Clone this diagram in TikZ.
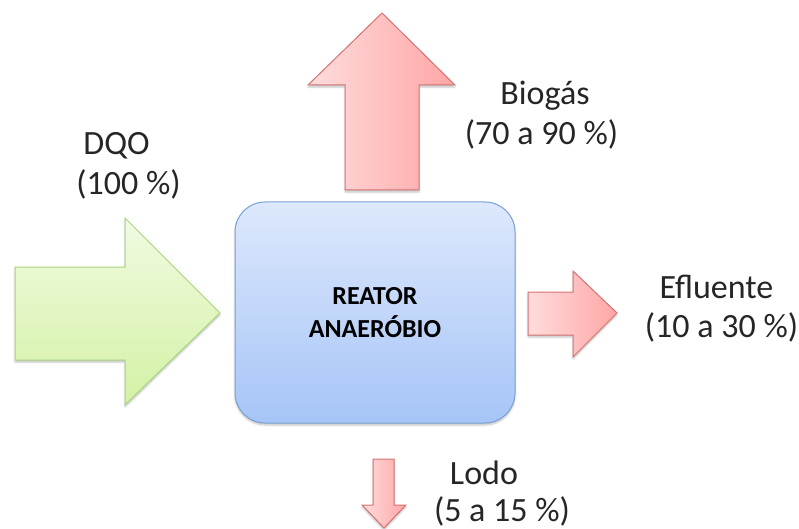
\documentclass[tikz,border=0pt]{standalone}
\usepackage{fontspec}
\setmainfont{Carlito}
\usetikzlibrary{shadows.blur}
\definecolor{boxtop}{HTML}{DDE8FC}
\definecolor{boxbot}{HTML}{A6C5F7}
\definecolor{boxline}{HTML}{7A9FD6}
\definecolor{greentop}{HTML}{F1FBE2}
\definecolor{greenbot}{HTML}{D3F1A4}
\definecolor{greenline}{HTML}{A9D37E}
\definecolor{redlight}{HTML}{FFDCDC}
\definecolor{reddark}{HTML}{FFA6A6}
\definecolor{redline}{HTML}{D67272}
\tikzset{
  inflow/.style={top color=greentop, bottom color=greenbot, draw=greenline, line width=1pt,
    line join=miter, blur shadow={shadow xshift=0pt, shadow yshift=-2pt, shadow blur steps=5, shadow opacity=25}},
  outflow/.style={left color=redlight, right color=reddark, draw=redline, line width=1pt,
    line join=miter, blur shadow={shadow xshift=0pt, shadow yshift=-2pt, shadow blur steps=5, shadow opacity=25}},
  reactorbox/.style={rounded corners=30pt, top color=boxtop, bottom color=boxbot, draw=boxline,
    line width=1pt, minimum width=280pt, minimum height=221pt, align=center,
    blur shadow={shadow xshift=0pt, shadow yshift=-2pt, shadow blur steps=5, shadow opacity=25}},
  lbl/.style={anchor=base, inner sep=0pt, font=\fontsize{34}{40}\selectfont, text=black!85}
}
\begin{document}
\begin{tikzpicture}[x=1pt, y=-1pt]
  \useasboundingbox (0,0) rectangle (799,529);
  % incoming DQO arrow
  \path[inflow] (15,267) -- (125,267) -- (125,218) -- (220,313) -- (125,405) -- (125,360) -- (15,360) -- cycle;
  % biogas arrow (up)
  \path[outflow] (345,190) -- (345,85) -- (308,85) -- (382,13) -- (455,85) -- (419,85) -- (419,190) -- cycle;
  % effluent arrow (right)
  \path[outflow] (528,292) -- (573,292) -- (573,271) -- (617,313) -- (573,357) -- (573,335) -- (528,335) -- cycle;
  % sludge arrow (down)
  \path[outflow] (373,459) -- (394,459) -- (394,505) -- (406,505) -- (384,528) -- (362,505) -- (373,505) -- cycle;
  % reactor
  \node[reactorbox, font=\fontsize{26}{33}\selectfont\bfseries] (reactor) at (375,312.5) {REATOR\\ANAERÓBIO};
  % labels
  \node[lbl] (dqo) at (116.5,155) {DQO};
  \node[lbl] (dqop) at (128.5,195) {(100 \%)};
  \node[lbl] (bio) at (545,105) {Biogás};
  \node[lbl] (biop) at (541.5,145) {(70 a 90 \%)};
  \node[lbl] (efl) at (716.5,298) {Efluente};
  \node[lbl] (eflp) at (721.5,337) {(10 a 30 \%)};
  \node[lbl] (lodo) at (484,484) {Lodo};
  \node[lbl] (lodop) at (502,521) {(5 a 15 \%)};
\end{tikzpicture}
\end{document}
